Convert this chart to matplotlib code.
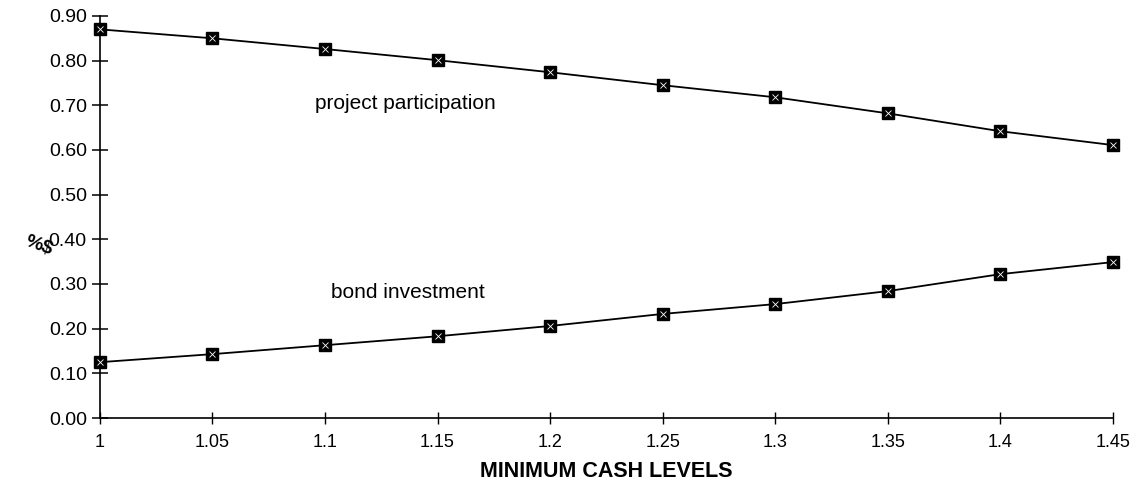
#!/usr/bin/env python3

"""Project participation vs bond investment share by minimum cash level."""

import matplotlib
matplotlib.use("Agg")
import matplotlib.pyplot as plt

cash_levels = [1.0, 1.05, 1.1, 1.15, 1.2, 1.25, 1.3, 1.35, 1.4, 1.45]
project_share = [0.870, 0.850, 0.826, 0.801, 0.774, 0.745, 0.718, 0.682, 0.642, 0.611]
bond_share = [0.125, 0.143, 0.163, 0.183, 0.206, 0.233, 0.255, 0.284, 0.322, 0.349]
x_tick_labels = ["1", "1.05", "1.1", "1.15", "1.2", "1.25", "1.3", "1.35", "1.4", "1.45"]
y_ticks = [0.0, 0.1, 0.2, 0.3, 0.4, 0.5, 0.6, 0.7, 0.8, 0.9]

plt.rcParams["font.family"] = ["Liberation Sans", "DejaVu Sans"]

fig = plt.figure(figsize=(11.32, 4.99), dpi=100)
ax = fig.add_axes([0.0883, 0.1623, 0.8947, 0.8057])

for series in (project_share, bond_share):
    ax.plot(cash_levels, series, color="black", linewidth=1.3, zorder=2, clip_on=False)
    ax.plot(cash_levels, series, linestyle="none", marker="s", markersize=8.5,
            color="black", zorder=3, clip_on=False)
    ax.plot(cash_levels, series, linestyle="none", marker="x", markersize=4,
            color="white", markeredgewidth=0.6, zorder=4, clip_on=False)

ax.set_xlim(1.0, 1.45)
ax.set_ylim(0.0, 0.9)
ax.set_xticks(cash_levels)
ax.set_xticklabels(x_tick_labels)
ax.set_yticks(y_ticks)
ax.set_yticklabels([f"{v:.2f}" for v in y_ticks])

for side in ("top", "right"):
    ax.spines[side].set_visible(False)
for side in ("left", "bottom"):
    ax.spines[side].set_linewidth(1.2)

ax.tick_params(axis="y", direction="inout", length=11, width=1.1, labelsize=14, pad=4)
ax.tick_params(axis="x", direction="inout", length=9, width=1.0, labelsize=13, pad=7)

ax.text(1.0955, 0.705, "project participation", fontsize=15, ha="left", va="center")
ax.text(1.1025, 0.280, "bond investment", fontsize=15, ha="left", va="center")

ax.set_xlabel("MINIMUM CASH LEVELS", fontsize=15.5, fontweight="bold", labelpad=7)
fig.text(0.034, 0.508, "%$", fontsize=14, fontweight="bold", rotation=-20,
         ha="center", va="center")

fig.savefig("out.png", dpi=100)
plt.close(fig)
